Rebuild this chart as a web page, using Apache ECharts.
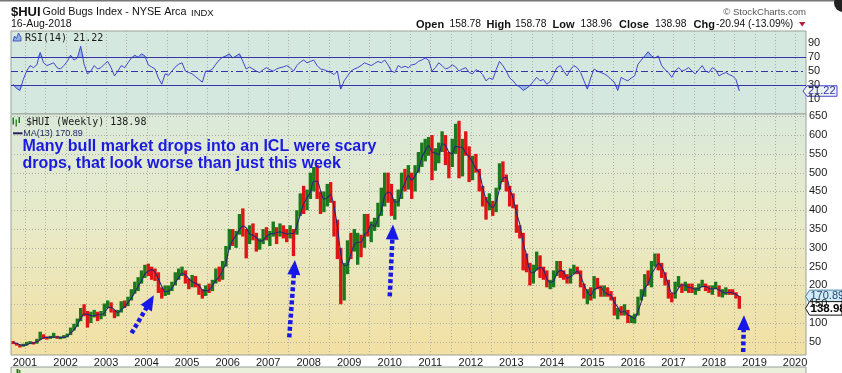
<!DOCTYPE html>
<html><head><meta charset="utf-8">
<script src="https://cdn.jsdelivr.net/npm/echarts@6/dist/echarts.min.js"></script>
<style>html,body{margin:0;padding:0;background:#fff;overflow:hidden}#c{width:842px;height:373px}</style>
</head><body><div id="c"></div>
<script>
// ---------- DATA (monthly readings, Sep 2000 .. Aug 2018) ----------
const START_YEAR = 2000, START_MONTH = 8; // first bar: Sep 2000
const lows = [
 44,40,35,37,
 40,44,43,45,55,58,56,58,60,58,57,59,
 62,68,80,90,105,118,88,100,115,105,110,118,
 140,128,113,118,128,140,145,160,178,185,205,220,
 225,215,212,180,165,172,175,185,200,215,225,205,
 190,195,195,175,165,172,180,185,205,210,215,250,
 295,305,300,335,330,272,310,320,290,295,310,320,
 305,330,310,330,325,315,325,278,335,385,390,400,
 430,450,430,390,395,410,420,330,270,150,160,230,
 270,290,255,275,300,330,315,345,355,385,410,420,
 385,375,410,430,450,455,430,450,500,515,530,545,
 480,505,525,555,520,485,515,550,485,490,545,475,
 480,500,450,410,375,400,385,395,455,475,450,410,
 405,340,325,240,235,200,205,240,220,215,195,190,
 195,225,220,215,205,205,230,230,195,165,150,160,
 165,190,170,170,170,160,120,110,120,120,100,100,
 99,120,160,170,200,195,250,240,220,200,165,155,
 165,195,180,185,180,180,175,185,195,185,180,175,
 190,170,168,175,175,175,165,138
];
const highs = [
 52,47,43,45,
 50,52,50,58,77,70,64,66,74,66,64,68,
 72,88,98,112,140,150,132,130,135,130,132,152,
 160,155,135,135,158,160,170,190,210,222,240,255,
 258,250,245,235,195,200,200,210,235,245,250,240,
 218,228,225,205,190,200,205,215,245,250,265,305,
 350,350,345,390,405,350,360,365,340,325,350,355,
 345,370,355,365,360,350,360,350,400,445,465,455,
 500,515,520,450,450,470,475,425,375,300,260,320,
 340,350,340,335,390,390,370,380,420,460,500,500,
 470,430,455,500,510,520,500,520,555,580,590,595,
 600,565,580,610,600,555,590,630,638,590,610,570,
 545,550,510,465,435,445,425,460,525,530,495,465,
 445,415,360,340,285,260,255,290,280,250,240,215,
 240,265,265,240,230,245,255,250,240,205,190,195,
 225,220,200,200,195,185,170,140,145,150,135,120,
 125,170,190,230,240,265,285,285,260,235,215,180,
 210,225,205,210,205,205,195,205,215,205,200,200,
 210,200,190,195,190,190,182,172
];
const closes = [
 46,42,38,42,
 47,48,45,56,65,62,60,64,66,60,61,65,
 70,85,92,108,135,130,105,125,128,112,125,145,
 150,132,122,130,152,148,165,185,195,215,225,250,
 240,235,230,185,180,185,190,205,228,230,238,215,
 200,215,200,185,178,195,192,210,240,220,260,300,
 340,320,338,385,350,325,340,335,305,315,340,335,
 335,345,340,345,335,330,350,335,395,435,420,445,
 480,505,445,405,440,455,430,340,300,215,245,305,
 300,320,325,300,380,345,360,365,410,420,485,440,
 405,420,440,495,480,500,460,515,545,560,570,585,
 510,560,570,600,545,520,585,605,515,580,560,490,
 535,505,460,420,410,415,400,455,515,485,460,425,
 410,345,335,260,245,210,245,270,230,225,200,200,
 235,260,225,222,210,240,240,235,200,170,180,170,
 215,195,175,180,175,165,125,135,125,135,105,110,
 120,165,185,225,205,260,270,245,235,205,170,165,
 205,210,190,200,195,185,190,200,200,190,185,195,
 195,175,180,185,180,176,170,138.98
];
const maValues = [
 48,46,42,41,
 42,46,47,50,55,61,62,62,63,63,62,62,
 65,73,82,95,112,124,123,120,119,122,122,127,
 140,142,135,128,135,143,155,166,182,198,212,230,
 238,242,235,217,198,183,185,193,208,221,232,228,
 218,210,205,200,188,186,188,199,214,223,240,260,
 300,320,333,348,358,353,338,333,327,318,320,330,
 337,338,340,343,340,337,338,338,360,388,417,433,
 448,477,477,452,430,433,442,408,357,285,253,255,
 283,308,315,315,335,342,362,357,378,398,438,448,
 443,422,422,452,472,492,480,492,507,540,558,572,
 555,552,547,577,572,555,550,570,568,567,552,543,
 528,510,500,462,430,415,408,423,457,485,487,457,
 432,393,363,313,280,238,233,242,248,242,218,208,
 212,232,240,236,219,224,230,238,225,202,183,173,
 188,193,195,183,177,173,155,142,128,132,122,117,
 112,132,157,192,205,230,245,258,250,228,203,180,
 180,193,202,200,195,193,190,192,197,197,192,190,
 192,188,183,180,182,180,176,170.89
];
const rsiValues = [
 31,25,22,38,
 50,58,55,59,77,62,58,60,62,55,53,58,
 64,73,66,69,86,60,46,50,58,53,55,60,
 64,55,43,50,58,55,62,69,73,70,75,72,
 59,56,53,40,31,46,44,50,56,60,62,50,
 48,46,42,38,34,50,50,53,60,66,70,72,
 75,69,72,75,64,53,56,53,50,48,52,55,
 52,50,53,55,56,58,55,50,58,63,66,62,
 64,66,58,53,52,50,48,45,50,24,36,43,
 50,53,55,58,62,60,58,61,64,62,66,59,
 50,48,58,55,57,55,59,60,64,66,69,66,
 50,55,62,58,53,55,59,56,50,53,55,48,
 46,52,50,45,36,40,38,52,64,58,50,40,
 36,30,27,22,25,29,35,41,36,38,31,35,
 45,55,58,50,43,52,58,55,48,36,24,40,
 53,50,48,46,43,38,34,22,41,38,36,40,
 43,60,66,72,78,72,69,72,58,52,48,41,
 50,55,50,52,55,50,46,52,58,50,48,55,
 52,43,46,48,45,43,38,21.22
];
const yearTicks = [2001,2002,2003,2004,2005,2006,2007,2008,2009,2010,2011,2012,2013,2014,2015,2016,2017,2018,2019,2020];
const priceTicks = [50,100,150,200,250,300,350,400,450,500,550,600,650];
const rsiTicks = [10,30,50,70,90];
const rsiLevels = [70,50,30];
// annotation arrows in data units: [fromYear, fromPrice, toYear, toPrice]
const arrows = [
 [2003.63, 73, 2004.18, 174],
 [2007.52, 62, 2007.66, 268],
 [2010.00, 171, 2010.08, 362],
 [2018.72, 23, 2018.74, 121]
];
const header = {sym:'$HUI', name:'Gold Bugs Index - NYSE Arca', exch:'INDX', date:'16-Aug-2018',
  open:'158.78', high:'158.78', low:'138.96', close:'138.98', chg:'-20.94 (-13.09%)'};
const noteLines = ['Many bull market drops into an ICL were scary', 'drops, that look worse than just this week'];

// ---------- CHART ----------
const X_MIN = 2000.655, X_MAX = 2020.27;
const GREEN = '#1c7a1c', RED = '#e01414', BLUE = '#1717e8', GRID = '#aeb1a3';
const monthTime = i => START_YEAR + (START_MONTH + i + 0.5) / 12;
const priceRows = lows.map((lo, i) => [monthTime(i), lo, highs[i], closes[i], i > 0 && closes[i] >= closes[i-1] ? 1 : 0]);
const maRows = maValues.map((v, i) => [monthTime(i), v]);
const rsiRows = rsiValues.map((v, i) => [monthTime(i), v]);
const rsiHiRows = rsiValues.map((v, i) => [monthTime(i), Math.max(v, 70)]);
const rsiLoRows = rsiValues.map((v, i) => [monthTime(i), Math.min(v, 30)]);
const halfYears = yearTicks.flatMap(y => [y, y + 0.5]).filter(v => v <= X_MAX);

const FONT = '"Liberation Sans", Arial, sans-serif';

// gridline helpers drawn through the axes' scales
const vGrid = (xi, yi, yRef) => ({type:'custom', xAxisIndex:xi, yAxisIndex:yi, silent:true, z:1, clip:false,
  data: halfYears.map(t => [t, yRef]), encode:{x:0, y:1},
  renderItem(params, api){
    const cs = params.coordSys;
    const x = Math.round(api.coord([api.value(0), api.value(1)])[0]) + 0.5;
    return {type:'line', shape:{x1:x, y1:cs.y, x2:x, y2:cs.y + cs.height}, style:{stroke:GRID, lineWidth:1, lineDash:[1,2]}};
  }});
const hGrid = (xi, yi, ticks) => ({type:'custom', xAxisIndex:xi, yAxisIndex:yi, silent:true, z:1, clip:false,
  data: ticks.map(v => [X_MIN, v]), encode:{x:0, y:1},
  renderItem(params, api){
    const cs = params.coordSys;
    const y = Math.round(api.coord([api.value(0), api.value(1)])[1]) + 0.5;
    return {type:'line', shape:{x1:cs.x, y1:y, x2:cs.x + cs.width, y2:y}, style:{stroke:GRID, lineWidth:1, lineDash:[1,2]}};
  }});

const chart = echarts.init(document.getElementById('c'), null, {renderer:'canvas', width:842, height:373});
const option = {
  animation:false,
  backgroundColor:'#ffffff',
  grid:[
    {left:11, right:36, top:31, height:83, show:true, backgroundColor:'#d4e8df', borderColor:'#9aa29a', borderWidth:1},
    {left:11, right:36, top:114, height:241, show:true, borderColor:'#9aa29a', borderWidth:1,
     backgroundColor:{type:'linear', x:0, y:0, x2:0, y2:1, colorStops:[
       {offset:0, color:'#dbe9da'}, {offset:0.45, color:'#e7eac8'}, {offset:1, color:'#f2e0a2'}]}}
  ],
  xAxis:[
    {gridIndex:0, type:'value', min:X_MIN, max:X_MAX, axisLine:{show:false},
     axisTick:{show:false}, axisLabel:{show:false}, splitLine:{show:false}},
    {gridIndex:1, type:'value', min:X_MIN, max:X_MAX, axisLine:{show:false},
     axisTick:{show:false},
     axisLabel:{show:true, customValues:yearTicks, formatter:v => String(Math.round(v)), margin:2,
       fontFamily:FONT, fontSize:11, color:'#1a1a1a'},
     splitLine:{show:false}}
  ],
  yAxis:[
    {gridIndex:0, type:'value', position:'right', min:-12, max:108, axisLine:{show:false},
     axisTick:{show:false},
     axisLabel:{customValues:rsiTicks, margin:2, fontFamily:FONT, fontSize:11, color:'#1a1a1a'},
     splitLine:{show:false}},
    {gridIndex:1, type:'value', position:'right', min:15, max:656, axisLine:{show:false},
     axisTick:{show:false},
     axisLabel:{customValues:priceTicks, margin:3, fontFamily:FONT, fontSize:11, color:'#1a1a1a'},
     splitLine:{show:false}}
  ],
  series:[
    vGrid(0, 0, 50),
    vGrid(1, 1, 300),
    hGrid(1, 1, priceTicks),
    {type:'line', xAxisIndex:0, yAxisIndex:0, data:rsiHiRows, showSymbol:false, silent:true,
     lineStyle:{width:0}, areaStyle:{origin:70, color:'#8fb4e4', opacity:0.9}, z:2},
    {type:'line', xAxisIndex:0, yAxisIndex:0, data:rsiLoRows, showSymbol:false, silent:true,
     lineStyle:{width:0}, areaStyle:{origin:30, color:'#8fb4e4', opacity:0.9}, z:2},
    {type:'line', xAxisIndex:0, yAxisIndex:0, data:rsiRows, showSymbol:false, silent:true,
     lineStyle:{color:'#4545cc', width:1}, z:4,
     markLine:{silent:true, symbol:'none', label:{show:false}, animation:false,
       data: rsiLevels.map(v => ({yAxis:v, lineStyle:{color:'#3535aa', width:1.2, type: v === 50 ? [7,3,2,3] : 'solid'}}))}},
    {type:'custom', xAxisIndex:1, yAxisIndex:1, data:priceRows, clip:true, silent:true, z:3,
     encode:{x:0, y:[1,2]},
     renderItem(params, api){
       const t = api.value(0);
       const lo = api.coord([t, api.value(1)]);
       const hi = api.coord([t, api.value(2)]);
       const w = api.size([1/12, 0])[0];
       return {type:'rect', shape:{x:lo[0]-w/2, y:hi[1], width:w, height:Math.max(1, lo[1]-hi[1])},
         style:{fill: api.value(4) ? GREEN : RED}};
     }},
    {type:'line', xAxisIndex:1, yAxisIndex:1, data:maRows, showSymbol:false, silent:true, smooth:0.3,
     lineStyle:{color:'#262678', width:1.1}, z:5},
    {type:'custom', xAxisIndex:1, yAxisIndex:1, data:arrows, clip:false, silent:true, z:8,
     encode:{x:[0,2], y:[1,3]},
     renderItem(params, api){
       const p0 = api.coord([api.value(0), api.value(1)]);
       const p1 = api.coord([api.value(2), api.value(3)]);
       const dx = p1[0]-p0[0], dy = p1[1]-p0[1], len = Math.hypot(dx, dy);
       const ux = dx/len, uy = dy/len, hl = 15, hw = 6.5;
       const bx = p1[0]-ux*hl, by = p1[1]-uy*hl;
       return {type:'group', children:[
         {type:'line', shape:{x1:p0[0], y1:p0[1], x2:bx+ux, y2:by+uy}, style:{stroke:BLUE, lineWidth:4.5, lineDash:[4,2.6]}},
         {type:'polygon', shape:{points:[[p1[0],p1[1]],[bx-uy*hw, by+ux*hw],[bx+uy*hw, by-ux*hw]]}, style:{fill:BLUE}}
       ]};
     }}
  ]
};
chart.setOption(option);

// ---------- decorations / labels ----------
const T = (x, y, text, font, fill, align) => ({type:'text', x, y, silent:true, z:100,
  style:{text, font, fill, align: align || 'left', verticalAlign:'middle', textAlign: align || 'left', textVerticalAlign:'middle'}});
const lastClose = closes[closes.length-1], lastMA = maValues[maValues.length-1], lastRSI = rsiValues[rsiValues.length-1];
const yClose = chart.convertToPixel({yAxisIndex:1}, lastClose);
const yMA = chart.convertToPixel({yAxisIndex:1}, lastMA);
const yRSI = chart.convertToPixel({yAxisIndex:0}, lastRSI);
const tag = (y, tip, right, h, fill, stroke, text, font, color) => ({type:'group', silent:true, z:110, children:[
  {type:'polygon', shape:{points:[[tip,y],[tip+4,y-h/2],[right,y-h/2],[right,y+h/2],[tip+4,y+h/2]]}, style:{fill, stroke, lineWidth:1}},
  {type:'text', x:tip+5, y, style:{text, font, fill:color, align:'left', verticalAlign:'middle', textAlign:'left', textVerticalAlign:'middle'}}
]});
const g = [
  {type:'rect', shape:{x:0, y:0, width:842, height:1.5}, style:{fill:'#777'}, silent:true},
  {type:'circle', shape:{cx:843, cy:3, r:9}, style:{fill:'#222'}, silent:true},
  T(11, 12.5, header.sym, 'bold 13px ' + FONT, '#111'),
  T(42.5, 12.5, header.name, '10.8px ' + FONT, '#111'),
  T(191, 13, header.exch, '9.5px ' + FONT, '#111'),
  T(11, 24.5, header.date, '10.5px ' + FONT, '#111'),
  T(806, 12, '\u00A9 StockCharts.com', '9.6px ' + FONT, '#555', 'right'),
  T(416, 24.5, 'Open', 'bold 11px ' + FONT, '#111'),
  T(449.5, 24.5, header.open, '10.3px ' + FONT, '#111'),
  T(486.5, 24.5, 'High', 'bold 11px ' + FONT, '#111'),
  T(515, 24.5, header.high, '10.3px ' + FONT, '#111'),
  T(552.5, 24.5, 'Low', 'bold 11px ' + FONT, '#111'),
  T(580.5, 24.5, header.low, '10.3px ' + FONT, '#111'),
  T(619, 24.5, 'Close', 'bold 11px ' + FONT, '#111'),
  T(655, 24.5, header.close, '10.3px ' + FONT, '#111'),
  T(693.5, 24.5, 'Chg', 'bold 11px ' + FONT, '#111'),
  T(716, 24.5, header.chg, '10.3px ' + FONT, '#111'),
  {type:'polygon', shape:{points:[[799,22],[805.5,22],[802.2,26.5]]}, style:{fill:'#b3203c'}, silent:true},
  // RSI legend
  {type:'polygon', shape:{points:[[13,41],[14.5,36],[16.5,38.5],[18.5,33],[21,37.5],[21,41]]}, style:{fill:'#8ab4e0', stroke:'#3a3ab8', lineWidth:0.8}, silent:true, z:100},
  T(25, 38.3, 'RSI(14) ' + lastRSI.toFixed(2), '10px "DejaVu Sans Mono", monospace', '#1a1a1a'),
  // price legend
  {type:'rect', shape:{x:12.5, y:117.5, width:1.5, height:7}, style:{fill:GREEN}, silent:true, z:100},
  {type:'rect', shape:{x:15.5, y:119.5, width:1.5, height:7}, style:{fill:'#3b8a2a'}, silent:true, z:100},
  {type:'rect', shape:{x:18.5, y:117, width:1.5, height:6}, style:{fill:GREEN}, silent:true, z:100},
  T(26, 122, header.sym + ' (Weekly) ' + lastClose.toFixed(2), '10px "DejaVu Sans Mono", monospace', '#1a1a1a'),
  {type:'line', shape:{x1:13, y1:133.3, x2:22.5, y2:133.3}, style:{stroke:'#23235e', lineWidth:2}, silent:true, z:100},
  T(23.3, 133.5, 'MA(13) ' + lastMA.toFixed(2), '9px ' + FONT, '#1e2a60'),
  T(22.5, 146.7, noteLines[0], 'bold 16px ' + FONT, '#1a1ae0'),
  T(22.5, 163.5, noteLines[1], 'bold 16px ' + FONT, '#1a1ae0'),
  // right value tags
  tag(yMA, 805.5, 842, 12.5, '#d2ecf8', '#4a7fa8', lastMA.toFixed(2), '11px ' + FONT, '#25476f'),
  tag(yClose, 805.5, 842, 13.5, '#ffffff', '#111111', lastClose.toFixed(2), 'bold 11.5px ' + FONT, '#000'),
  tag(yRSI, 803, 837, 10.5, '#eef4f6', '#4646c8', lastRSI.toFixed(2), '11px ' + FONT, '#3030a8'),
  // next panel peeking at the bottom
  {type:'rect', shape:{x:11, y:367, width:795, height:12}, style:{fill:'#e9efdb', stroke:'#9aa29a', lineWidth:1}, silent:true},
  {type:'rect', shape:{x:16.5, y:369, width:2, height:4}, style:{fill:GREEN}, silent:true, z:100},
  {type:'rect', shape:{x:19, y:370, width:1.5, height:3}, style:{fill:'#3b8a2a'}, silent:true, z:100}
];
chart.setOption({graphic:g});
</script>
</body></html>
